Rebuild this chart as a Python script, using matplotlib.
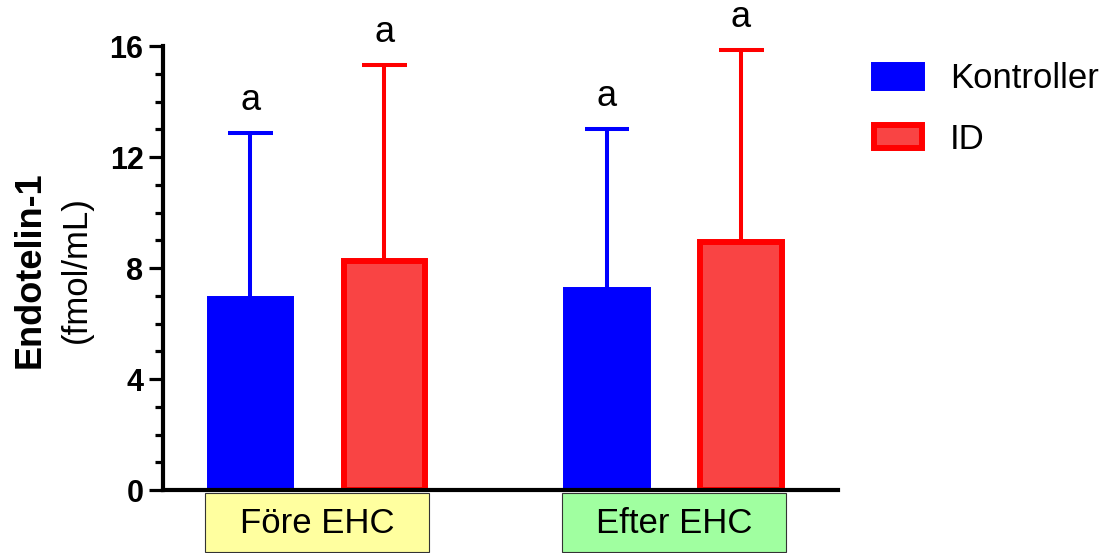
import numpy as np
import matplotlib.pyplot as plt
from matplotlib.patches import Rectangle
from matplotlib.ticker import MultipleLocator

plt.rcParams["font.family"] = ["Liberation Sans", "DejaVu Sans"]

groups = ["Före EHC", "Efter EHC"]
group_colors = ["#ffff9f", "#a0ffa0"]
series = ["Kontroller", "ID"]
means = {"Kontroller": [6.9, 7.2], "ID": [8.25, 8.95]}
errs = {"Kontroller": [5.95, 5.8], "ID": [7.05, 6.9]}
letters = {"Kontroller": ["a", "a"], "ID": ["a", "a"]}

face = {"Kontroller": "#0000ff", "ID": "#f94444"}
edge = {"Kontroller": "#0000ff", "ID": "#ff0000"}
line = {"Kontroller": "#0000ff", "ID": "#ff0000"}

fig = plt.figure(figsize=(11.14, 5.53), dpi=100)
ax = fig.add_axes([0.1463, 0.1139, 0.6060, 0.8029])

x = np.arange(len(groups))
off = 0.188
w = 0.228
cap = 0.063

for i, s in enumerate(series):
    xs = x + (i * 2 - 1) * off
    m = np.array(means[s])
    e = np.array(errs[s])
    ax.vlines(xs, m, m + e, color=line[s], lw=2.9, zorder=1)
    ax.hlines(m + e, xs - cap, xs + cap, color=line[s], lw=2.9, zorder=1)
    ax.bar(xs, m, width=w, color=face[s], edgecolor=edge[s], linewidth=4.3,
           label=s, zorder=2)
    for xi, top, lab in zip(xs, m + e, letters[s]):
        ax.annotate(lab, (xi, top), xytext=(0, 17), textcoords="offset points",
                    ha="center", va="baseline", fontsize=26)

# category boxes under the axis
span = off + w / 2 + 0.012
for xi, g, c in zip(x, groups, group_colors):
    ax.add_patch(Rectangle((xi - span, -0.139), 2 * span, 0.133,
                           transform=ax.get_xaxis_transform(), facecolor=c,
                           edgecolor="#333333", lw=0.8, clip_on=False))
    ax.text(xi, -0.075, g, transform=ax.get_xaxis_transform(), ha="center",
            va="center", fontsize=25)

ax.set_xlim(-0.433, 1.46)
ax.set_ylim(0, 16)
ax.yaxis.set_major_locator(MultipleLocator(4))
ax.yaxis.set_minor_locator(MultipleLocator(1))
ax.tick_params(axis="y", which="major", length=10, width=2.3, labelsize=22, pad=4)
ax.tick_params(axis="y", which="minor", length=6, width=2.3)
ax.tick_params(axis="x", bottom=False, labelbottom=False)
for t in ax.get_yticklabels():
    t.set_fontweight("bold")
for side in ["top", "right"]:
    ax.spines[side].set_visible(False)
for side in ["left", "bottom"]:
    ax.spines[side].set_linewidth(3)

fig.text(0.027, 0.512, "Endotelin-1", rotation=90, ha="center", va="center",
         fontsize=26, fontweight="bold")
fig.text(0.069, 0.512, "(fmol/mL)", rotation=90, ha="center", va="center",
         fontsize=25)

fig.legend(loc="upper left", bbox_to_anchor=(0.7846, 0.887), frameon=False,
           fontsize=25, handlelength=1.38, handleheight=0.66, handletextpad=0.8,
           labelspacing=0.78, borderpad=0, borderaxespad=0)

fig.savefig("out.png", dpi=100)
